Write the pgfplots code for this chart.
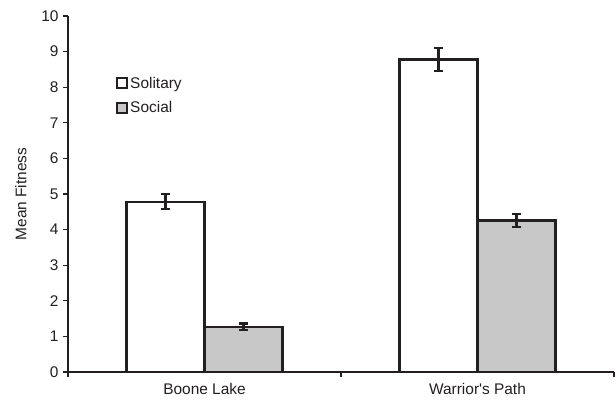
\documentclass[border=0pt]{standalone}
\usepackage{pgfplots}
\pgfplotsset{compat=1.18}
\usepackage{fontspec}
\setmainfont{Liberation Sans}
\definecolor{ink}{HTML}{231F20}
\definecolor{socialgray}{HTML}{C8C8C8}
\begin{document}
\begin{tikzpicture}
\begin{axis}[
  scale only axis,
  width=546bp, height=356bp,
  ybar=0pt, bar width=78bp,
  xmin=-0.5, xmax=1.5,
  ymin=0, ymax=10,
  ytick={0,1,...,10},
  xtick={0,1},
  xticklabels={Boone Lake, Warrior\textquotesingle s Path},
  minor xtick={-0.5,0.5,1.5},
  x tick style={draw=none},
  minor x tick style={draw=ink, line width=1.3pt},
  minor tick length=5bp,
  major tick length=5bp,
  y tick style={draw=ink, line width=1.3pt},
  tick align=outside,
  axis x line*=bottom, axis y line*=left,
  axis line style={draw=ink, line width=2.2pt},
  ticklabel style={font=\fontsize{15.5}{17}\selectfont, text=ink},
  /pgf/number format/assume math mode=true,
  ylabel={Mean Fitness},
  every axis y label/.style={at={(ticklabel cs:0.5)}, rotate=90, anchor=south,
     font=\fontsize{15.5}{17}\selectfont, text=ink},
  ylabel shift=8bp,
  xticklabel shift=3bp,
  yticklabel shift=1bp,
  legend style={draw=none, fill=none, inner sep=0pt, at={(axis description cs:0.088,0.835)}, anchor=north west,
    font=\fontsize{15.5}{17}\selectfont, text=ink, row sep=8bp,
    /tikz/every even column/.append style={column sep=2bp}},
  legend cell align=left,
  legend image code/.code={\draw[#1, line width=2pt, draw=ink] (0bp,-5bp) rectangle (10bp,5bp);},
  clip=false,
]
\addplot[draw=ink, fill=white, line width=2.4pt,
  error bars/.cd, y dir=both, y explicit,
  error bar style={draw=ink, line width=2.2pt},
  error mark options={rotate=90, mark size=4.8bp, line width=2.2pt, draw=ink}]
  coordinates {(0,4.78) +- (0,0.21) (1,8.78) +- (0,0.33)};
\addplot[draw=ink, fill=socialgray, line width=2.4pt,
  error bars/.cd, y dir=both, y explicit,
  error bar style={draw=ink, line width=2.2pt},
  error mark options={rotate=90, mark size=4.8bp, line width=2.2pt, draw=ink}]
  coordinates {(0,1.27) +- (0,0.09) (1,4.26) +- (0,0.18)};
\legend{Solitary, Social}
\coordinate (ll) at (rel axis cs:0,0);
\coordinate (ur) at (rel axis cs:1,1);
\end{axis}
\pgfresetboundingbox
\path ([shift={(-68bp,-30bp)}]ll) rectangle ([shift={(2bp,16bp)}]ur);
\end{tikzpicture}
\end{document}
